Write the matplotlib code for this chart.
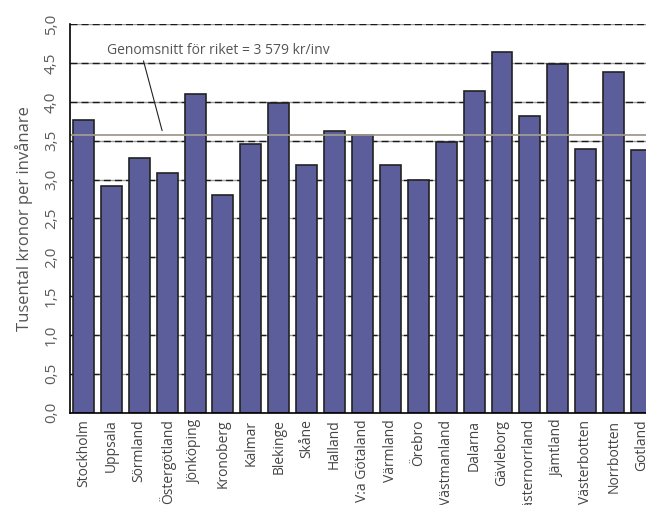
import matplotlib.pyplot as plt
import numpy as np

plt.rcParams['font.family'] = ['Open Sans', 'DejaVu Sans']

lan = ['Stockholm', 'Uppsala', 'Sörmland', 'Östergötland', 'Jönköping', 'Kronoberg',
       'Kalmar', 'Blekinge', 'Skåne', 'Halland', 'V:a Götaland', 'Värmland', 'Örebro',
       'Västmanland', 'Dalarna', 'Gävleborg', 'Västernorrland', 'Jämtland',
       'Västerbotten', 'Norrbotten', 'Gotland']
varden = [3.77, 2.92, 3.28, 3.09, 4.10, 2.80, 3.46, 3.98, 3.19, 3.63, 3.58, 3.19, 2.99,
          3.49, 4.14, 4.64, 3.82, 4.49, 3.40, 4.39, 3.38]
snitt = 3.579
yticks = [0.0, 0.5, 1.0, 1.5, 2.0, 2.5, 3.0, 3.5, 4.0, 4.5, 5.0]

fig = plt.figure(figsize=(6.46, 5.05), dpi=100)
ax = fig.add_axes([0.1084, 0.183, 0.8916, 0.769])

x = np.arange(len(lan))
# grid: grey line with black dashes on top
for t in yticks[1:]:
    ax.axhline(t, color='#9a9a9a', lw=1.0, zorder=1)
    ax.axhline(t, color='#1a1a1a', lw=1.0, ls=(0, (5, 3)), zorder=1.1)

ax.bar(x, varden, width=0.75, color='#5c5e9c', edgecolor='#222222', linewidth=1.2, zorder=2)
ax.axhline(snitt, color='#a09a90', lw=1.3, zorder=3)

ax.annotate('Genomsnitt för riket = 3 579 kr/inv', xy=(2.82, 3.63), xytext=(0.85, 4.66),
            fontsize=10, color='#555555', va='center', ha='left',
            arrowprops=dict(arrowstyle='-', color='#222222', lw=0.8,
                            shrinkA=0, shrinkB=0, relpos=(0.16, 0.0)), zorder=4)

ax.set_xlim(-0.48, 20.16)
ax.set_ylim(0, 5.0)
ax.set_yticks(yticks)
ax.set_yticklabels([f'{t:.1f}'.replace('.', ',') for t in yticks], rotation=90,
                   va='center', fontsize=11, color='#5a5a5a')
ax.set_xticks(x)
ax.set_xticklabels(lan, rotation=90, fontsize=10, color='#444444')
ax.tick_params(axis='x', length=0, pad=5)
ax.tick_params(axis='y', length=0, pad=8)
ax.set_ylabel('Tusental kronor per invånare', fontsize=12, color='#555555', labelpad=8)

for s in ['top', 'right']:
    ax.spines[s].set_visible(False)
ax.spines['left'].set_linewidth(1.2)
ax.spines['bottom'].set_linewidth(1.2)
ax.spines['left'].set_zorder(5)

fig.savefig('out.png', dpi=100)
